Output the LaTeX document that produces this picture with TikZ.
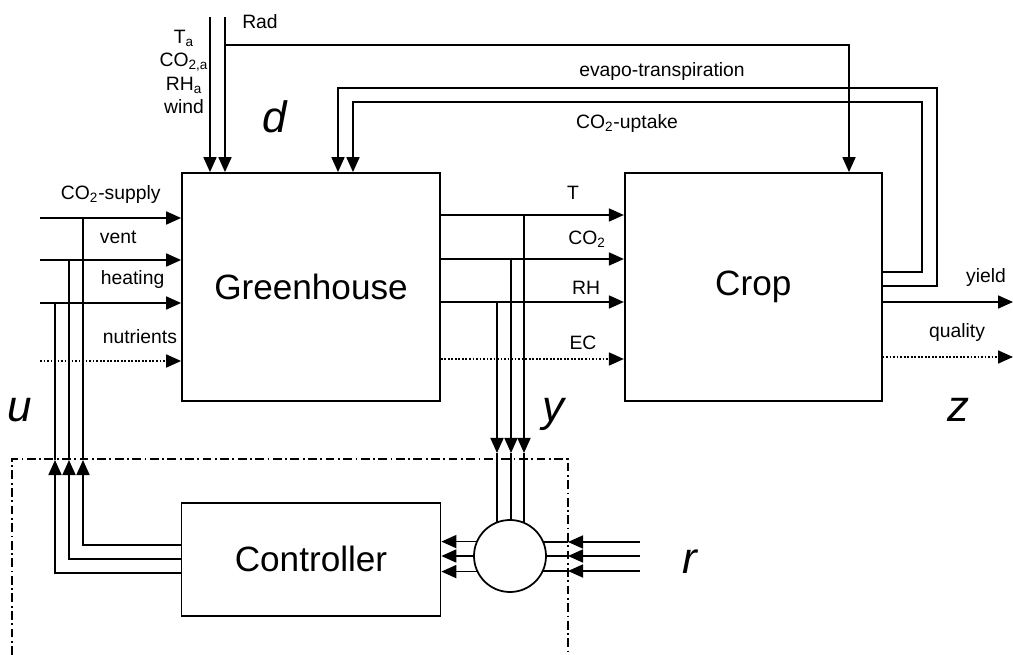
\documentclass[tikz,border=0pt]{standalone}
\usepackage{fontspec}
\setmainfont{Liberation Sans}
\usetikzlibrary{arrows.meta,positioning}

\begin{document}
\begin{tikzpicture}[x=0.2mm,y=-0.2mm,line width=1pt,>={Triangle[length=0.3cm,width=0.26cm]},
  blk/.style={draw,inner sep=0pt,font=\fontsize{20}{24}\selectfont},
  lbl/.style={inner sep=0pt,font=\fontsize{11}{13.2}\selectfont},
  sym/.style={inner sep=0pt,anchor=base,font=\fontsize{25}{30}\selectfont\itshape},
  zone/.style={line width=0.8pt,dash pattern=on 5pt off 2pt on 1pt off 2pt}]
\useasboundingbox (0,0) rectangle (1013,655);
\node[blk,minimum width=5.16cm,minimum height=4.56cm] (g) at (311,287) {Greenhouse};
\node[blk,right=3.66cm of g,minimum width=5.14cm,minimum height=4.56cm] (c) {Crop};
\node[blk,below=2cm of g,minimum width=5.18cm,minimum height=2.26cm] (k) {Controller};
\node[draw,circle,inner sep=0pt,minimum size=1.44cm] (s) at (510,556) {};
\node[lbl,align=center] (da) at (184,72) {T\textsubscript{a}\\CO\textsubscript{2,a}\\RH\textsubscript{a}\\wind};
\node[lbl] (rad) at (260,22) {Rad};
\node[sym] (dl) at (275,133) {d};
\node[lbl] (ev) at (662,72) {evapo-transpiration};
\node[lbl] (up) at (627,124) {CO\textsubscript{2}-uptake};
\node[lbl,anchor=west] (i1) at (60,195) {CO\textsubscript{2}-supply};
\node[lbl,anchor=west] (i2) at (99,237) {vent};
\node[lbl,anchor=west] (i3) at (100,280) {heating};
\node[lbl,anchor=west] (i4) at (102,337) {nutrients};
\node[lbl] (m1) at (573,193) {T};
\node[lbl] (m2) at (587,239) {CO\textsubscript{2}};
\node[lbl] (m3) at (586,288) {RH};
\node[lbl] (m4) at (583,343) {EC};
\node[lbl] (n1) at (986,278) {yield};
\node[lbl] (n2) at (957,333) {quality};
\node[sym] (ul) at (20,422) {u};
\node[sym] (yl) at (553,422) {y};
\node[sym] (zl) at (958,422) {z};
\node[sym] (rl) at (690,573) {r};
\coordinate (t1) at (210,17);
\coordinate (t2) at (225,17);
\coordinate (t3) at (225,45);
\coordinate (t4) at (849,45);
\draw[->] (t1) -- (t1 |- g.north);
\draw[->] (t2) -- (t2 |- g.north);
\draw[->] (t3) -- (t4) -- (t4 |- c.north);
\coordinate (e1) at (937,286);
\coordinate (e2) at (937,88);
\coordinate (e3) at (338,88);
\draw[->] (e1 -| c.east) -- (e1) -- (e2) -- (e3) -- (e3 |- g.north);
\coordinate (f1) at (922,272);
\coordinate (f2) at (922,102);
\coordinate (f3) at (353,102);
\draw[->] (f1 -| c.east) -- (f1) -- (f2) -- (f3) -- (f3 |- g.north);
\coordinate (u1) at (40,218);
\coordinate (u2) at (40,260);
\coordinate (u3) at (40,303);
\coordinate (u4) at (40,361);
\draw[->] (u1) -- (u1 -| g.west);
\draw[->] (u2) -- (u2 -| g.west);
\draw[->] (u3) -- (u3 -| g.west);
\draw[->,densely dotted] (u4) -- (u4 -| g.west);
\coordinate (v1) at (83,545);
\coordinate (v2) at (69,559);
\coordinate (v3) at (55,573);
\coordinate (w1) at (83,460);
\coordinate (w2) at (69,460);
\coordinate (w3) at (55,460);
\draw[->] (v1 -| k.west) -- (v1) -- (w1);
\draw[->] (v2 -| k.west) -- (v2) -- (w2);
\draw[->] (v3 -| k.west) -- (v3) -- (w3);
\draw (w1) -- (w1 |- u1);
\draw (w2) -- (w2 |- u2);
\draw (w3) -- (w3 |- u3);
\coordinate (y1) at (524,215);
\coordinate (y2) at (511,259);
\coordinate (y3) at (497,302);
\coordinate (y4) at (500,359);
\draw[->] (y1 -| g.east) -- (y1 -| c.west);
\draw[->] (y2 -| g.east) -- (y2 -| c.west);
\draw[->] (y3 -| g.east) -- (y3 -| c.west);
\draw[->,densely dotted] (y4 -| g.east) -- (y4 -| c.west);
\coordinate (z1) at (524,453);
\coordinate (z2) at (511,453);
\coordinate (z3) at (497,453);
\draw[->] (y1) -- (z1);
\draw[->] (y2) -- (z2);
\draw[->] (y3) -- (z3);
\draw (z1) -- (z1 |- s.67);
\draw (z2) -- (z2 |- s.88);
\draw (z3) -- (z3 |- s.111);
\coordinate (q1) at (640,542);
\coordinate (q2) at (640,556);
\coordinate (q3) at (640,571);
\coordinate (p1) at (568,542);
\coordinate (p2) at (568,556);
\coordinate (p3) at (568,571);
\draw[->] (q1) -- (p1);
\draw[->] (q2) -- (p2);
\draw[->] (q3) -- (p3);
\draw (p1) -- (p1 -| s.23);
\draw (p2) -- (p2 -| s.0);
\draw (p3) -- (p3 -| s.-25);
\draw[->] (s.157) -- (s.157 -| k.east);
\draw[->] (s.180) -- (s.180 -| k.east);
\draw[->] (s.205) -- (s.205 -| k.east);
\coordinate (o1) at (1013,302);
\coordinate (o2) at (1013,357);
\draw[->] (o1 -| c.east) -- (o1);
\draw[->,densely dotted] (o2 -| c.east) -- (o2);
\draw[zone] (12,655) -- (12,459) -- (568,459) -- (568,655);
\end{tikzpicture}
\end{document}
